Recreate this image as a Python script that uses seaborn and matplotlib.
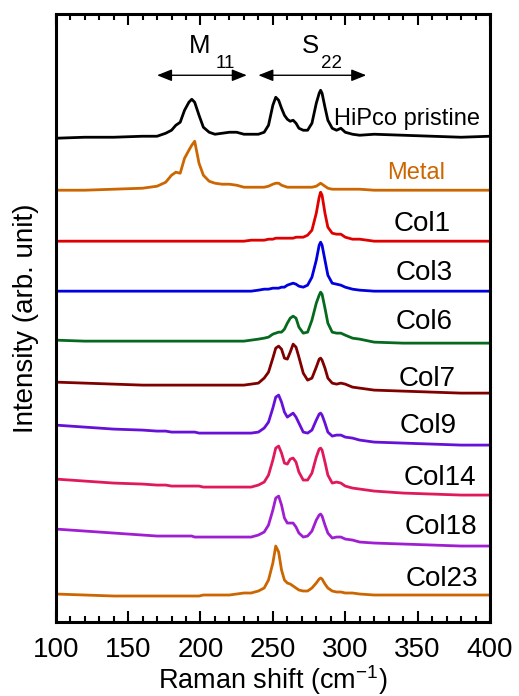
import numpy as np
import pandas as pd
import matplotlib
matplotlib.use('Agg')
import matplotlib.pyplot as plt
from matplotlib.ticker import MultipleLocator
import seaborn as sns

sns.set_style('ticks', {'axes.edgecolor': 'black', 'text.color': 'black',
                        'axes.labelcolor': 'black', 'xtick.color': 'black'})
plt.rcParams['font.family'] = ['Liberation Sans', 'DejaVu Sans']
plt.rcParams['mathtext.fontset'] = 'custom'
plt.rcParams['mathtext.rm'] = 'Liberation Sans'
plt.rcParams['mathtext.it'] = 'Liberation Sans:italic'

# raman shift grid (cm-1)
shift = [100, 120, 140, 160, 170, 176, 180, 183, 186, 189,
         192, 194, 196, 199, 202, 206, 210, 215, 220, 225,
         230, 235, 240, 244, 247, 250, 252, 254, 256, 258,
         260, 262, 264, 266, 268, 271, 274, 277, 280, 282,
         283, 284, 286, 288, 291, 294, 297, 300, 305, 310,
         320, 340, 360, 380, 400]

# stacked intensities (arb. unit, offsets included)
hipco = [483, 484, 484, 485, 485, 488, 491, 496, 499, 511,
         519, 522, 519, 506, 494, 489, 487, 488, 489, 489,
         487, 487, 487, 489, 496, 516, 524, 521, 513, 506,
         502, 500, 501, 498, 493, 491, 491, 498, 518, 528,
         531, 528, 514, 501, 493, 491, 493, 489, 487, 486,
         487, 486, 485, 484, 485]
metal = [431, 431, 432, 433, 435, 439, 446, 449, 448, 463,
         471, 476, 480, 458, 446, 440, 438, 437, 437, 436,
         434, 434, 434, 434, 435, 437, 438, 438, 436, 435,
         434, 434, 434, 434, 434, 434, 434, 434, 435, 437,
         438, 437, 435, 433, 432, 432, 432, 432, 432, 432,
         431, 431, 431, 431, 431]
col1 = [380, 380, 380, 380, 380, 380, 380, 380, 380, 380,
        380, 380, 380, 380, 380, 380, 380, 380, 380, 380,
        380, 381, 381, 381, 382, 382, 383, 383, 383, 383,
        383, 383, 383, 384, 384, 384, 386, 391, 408, 424,
        429, 426, 408, 394, 388, 387, 387, 384, 382, 382,
        380, 380, 380, 380, 380]
col3 = [330, 330, 330, 330, 330, 330, 330, 330, 330, 330,
        330, 330, 330, 330, 330, 330, 330, 330, 330, 330,
        330, 330, 331, 332, 332, 333, 333, 333, 334, 334,
        336, 337, 338, 337, 335, 334, 336, 344, 361, 376,
        379, 376, 361, 346, 338, 337, 336, 334, 332, 331,
        330, 330, 330, 330, 330]
col6 = [281, 280, 280, 280, 280, 280, 280, 280, 280, 280,
        280, 280, 280, 280, 280, 280, 280, 280, 280, 280,
        280, 281, 282, 283, 284, 287, 288, 289, 289, 292,
        298, 303, 305, 303, 294, 288, 289, 301, 318, 326,
        329, 327, 313, 298, 289, 288, 288, 286, 283, 282,
        279, 278, 278, 278, 278]
col7 = [239, 238, 237, 236, 236, 236, 236, 236, 236, 236,
        236, 236, 236, 236, 236, 236, 236, 236, 236, 236,
        236, 237, 238, 243, 249, 263, 273, 275, 272, 263,
        262, 269, 277, 274, 264, 248, 241, 243, 254, 262,
        263, 261, 253, 243, 238, 237, 238, 237, 234, 233,
        231, 230, 229, 228, 228]
col9 = [196, 194, 192, 191, 190, 190, 189, 189, 189, 189,
        189, 189, 189, 188, 188, 188, 188, 188, 188, 188,
        188, 188, 189, 193, 199, 213, 224, 226, 219, 209,
        204, 206, 208, 204, 198, 189, 188, 191, 201, 207,
        208, 206, 198, 189, 185, 186, 186, 184, 183, 181,
        179, 178, 177, 176, 176]
col14 = [142, 140, 138, 137, 136, 136, 135, 135, 135, 135,
         135, 135, 135, 135, 134, 134, 134, 134, 134, 134,
         134, 134, 136, 139, 146, 161, 173, 175, 168, 158,
         157, 162, 163, 159, 149, 141, 141, 148, 164, 172,
         173, 171, 159, 146, 138, 139, 138, 135, 133, 132,
         130, 128, 127, 126, 126]
col18 = [92, 90, 88, 86, 85, 85, 85, 85, 85, 85,
         85, 85, 84, 84, 84, 84, 84, 84, 84, 84,
         84, 84, 86, 89, 96, 111, 123, 125, 116, 103,
         98, 98, 98, 94, 88, 84, 85, 90, 101, 106,
         107, 105, 96, 88, 83, 84, 84, 82, 81, 79,
         78, 77, 76, 75, 75]
col23 = [27, 26, 25, 25, 25, 25, 25, 25, 25, 25,
         25, 25, 25, 25, 26, 26, 26, 26, 26, 27,
         28, 28, 30, 33, 41, 58, 75, 69, 51, 41,
         38, 37, 35, 33, 31, 30, 30, 33, 38, 42,
         43, 42, 37, 33, 30, 29, 29, 28, 28, 27,
         26, 26, 26, 26, 26]

samples = ['HiPco pristine', 'Metal', 'Col1', 'Col3', 'Col6',
           'Col7', 'Col9', 'Col14', 'Col18', 'Col23']
spectra = [hipco, metal, col1, col3, col6, col7, col9, col14, col18, col23]
colors = ['#000000', '#cc6600', '#e00000', '#0000e0', '#056a1e',
          '#800000', '#6610d8', '#e0195a', '#a01ed2', '#cc6600']

df = pd.concat([pd.DataFrame({'shift': shift, 'intensity': v, 'sample': s})
                for s, v in zip(samples, spectra)], ignore_index=True)

fig = plt.figure(figsize=(5.19, 6.96), dpi=100)
ax = fig.add_axes([55.7/519, 1-622/696, (490-55.7)/519, (622-14.3)/696])

sns.lineplot(data=df, x='shift', y='intensity', hue='sample',
             palette=dict(zip(samples, colors)), estimator=None, sort=False,
             legend=False, linewidth=2, ax=ax)

ax.set_xlim(100, 400)
ax.set_ylim(-1, 607)
ax.set_yticks([])
ax.xaxis.set_major_locator(MultipleLocator(50))
ax.xaxis.set_minor_locator(MultipleLocator(10))
ax.tick_params(axis='x', which='both', direction='in', top=True,
               labelsize=20, width=1.5, pad=10.5)
ax.tick_params(axis='x', which='major', length=8)
ax.tick_params(axis='x', which='minor', length=4)
for sp in ax.spines.values():
    sp.set_linewidth(2.2)

# sample labels
label_pos = [(292, 496), (328.7, 442), (333.3, 390), (335, 341), (335, 292),
             (337, 235), (337.4, 188), (340, 136), (341, 87), (342, 35)]
for s, (lx, ly) in zip(samples, label_pos):
    fs = 17 if s in ('HiPco pristine', 'Metal') else 20
    c = '#cc6600' if s == 'Metal' else 'k'
    ax.text(lx, ly, s, fontsize=fs, color=c, va='baseline', ha='left')

# band regions
arrow = dict(arrowstyle='<|-|>,head_length=0.5,head_width=0.2',
             color='k', lw=1, mutation_scale=18, shrinkA=0, shrinkB=0)
ax.annotate('', xy=(170, 546), xytext=(232, 546), arrowprops=arrow)
ax.annotate('', xy=(240, 546), xytext=(314.5, 546), arrowprops=arrow)
ax.text(192.3, 568, 'M', fontsize=18.5, va='baseline')
ax.text(210.5, 553, '11', fontsize=13.5, va='baseline')
ax.text(270.2, 568, 'S', fontsize=18.5, va='baseline')
ax.text(283.5, 553, '22', fontsize=13.5, va='baseline')

# x label placed by its baseline so it clears the tick labels
ax.set_xlabel('')
fig.text((55.7 + 490) / 2 / 519, 1 - 689 / 696, r'Raman shift (cm$^{\mathregular{-1}}$)',
         fontsize=19.5, ha='center', va='baseline')
ax.set_ylabel('Intensity (arb. unit)', fontsize=20, labelpad=12)

fig.savefig('out.png', dpi=100)
